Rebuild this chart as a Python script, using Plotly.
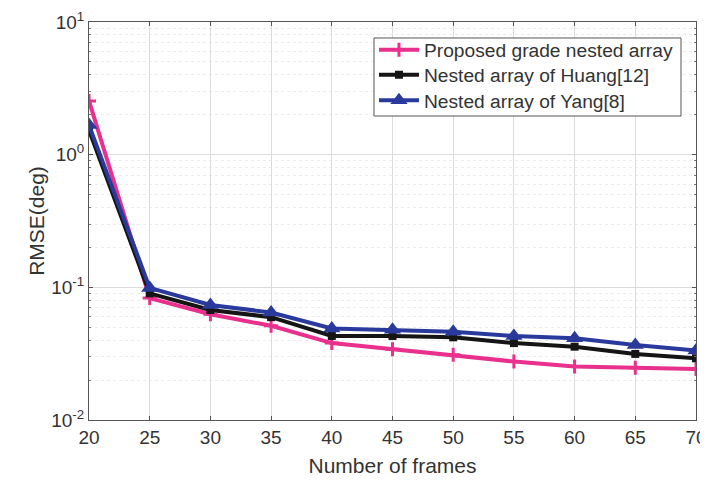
import plotly.graph_objects as go

frames = [20, 25, 30, 35, 40, 45, 50, 55, 60, 65, 70]
proposed = [2.54, 0.083, 0.0627, 0.0513, 0.038, 0.0342, 0.031, 0.0276, 0.0253, 0.0248, 0.0242]
huang = [1.53, 0.090, 0.0675, 0.0596, 0.043, 0.043, 0.042, 0.038, 0.0357, 0.0315, 0.0292]
yang = [1.67, 0.099, 0.0736, 0.0646, 0.049, 0.0478, 0.0463, 0.043, 0.0413, 0.0368, 0.0334]

names = ["Proposed grade nested array", "Nested array of Huang[12]", "Nested array of Yang[8]"]
y_ticks = [0.01, 0.1, 1, 10]
y_ticktext = ["10<sup>-2</sup>", "10<sup>-1</sup>", "10<sup>0</sup>", "10<sup>1</sup>"]

fig = go.Figure()
fig.add_trace(go.Scatter(x=frames, y=proposed, name=names[0], mode="lines+markers", legend="legend",
                         line=dict(color="#e8308c", width=4),
                         marker=dict(symbol="cross-thin", size=10, line=dict(color="#e8308c", width=3))))
fig.add_trace(go.Scatter(x=frames, y=huang, name=names[1], mode="lines+markers", legend="legend2",
                         line=dict(color="#151515", width=4),
                         marker=dict(symbol="square", size=8, color="#151515")))
fig.add_trace(go.Scatter(x=frames, y=yang, name=names[2], mode="lines+markers", legend="legend3",
                         line=dict(color="#2a3a9c", width=4),
                         marker=dict(symbol="triangle-up", size=15, color="#2a3a9c")))

font_color = "#333333"
leg_common = dict(x=0.4695, xanchor="left", yanchor="middle", bgcolor="rgba(0,0,0,0)",
                  borderwidth=0, font=dict(size=19.2), itemwidth=40)
# page body has an 8px default margin; figure sized so plot area lands where the reference has it
fig.update_layout(
    width=700, height=475,
    margin=dict(l=81, r=12, t=14, b=63),
    paper_bgcolor="white", plot_bgcolor="white",
    font=dict(family="Liberation Sans, Arial, sans-serif", size=19, color=font_color),
    legend=dict(y=0.9305, **leg_common),
    legend2=dict(y=0.8677, **leg_common),
    legend3=dict(y=0.8034, **leg_common),
    showlegend=True,
    shapes=[dict(type="rect", xref="paper", yref="paper", x0=0.4695, x1=0.9753, y0=0.7638, y1=0.9598,
                 line=dict(color="#555555", width=1), fillcolor="white", layer="above")],
)
fig.update_xaxes(
    range=[20, 70], tickvals=frames, automargin=False,
    title=dict(text="Number of frames", standoff=11, font=dict(size=21)),
    tickfont=dict(size=19),
    showline=True, linecolor="#555555", linewidth=1, mirror="ticks",
    ticks="inside", ticklen=4, tickcolor="#555555",
    showgrid=True, gridcolor="#dcdcdc", gridwidth=1, zeroline=False,
)
fig.update_yaxes(
    type="log", range=[-2, 1], tickvals=y_ticks, ticktext=y_ticktext, automargin=False,
    title=dict(text="RMSE(deg)", standoff=0, font=dict(size=21)),
    tickfont=dict(size=19),
    showline=True, linecolor="#555555", linewidth=1, mirror="ticks",
    ticks="inside", ticklen=4, tickcolor="#555555",
    showgrid=True, gridcolor="#dcdcdc", gridwidth=1, zeroline=False,
    minor=dict(dtick="D1", showgrid=True, gridcolor="#ececec", griddash="dot",
               ticks="inside", ticklen=2, tickcolor="#777777"),
)
fig.write_html("out.html")
